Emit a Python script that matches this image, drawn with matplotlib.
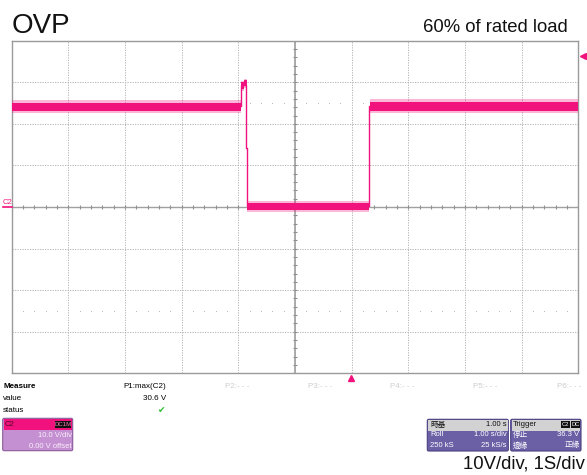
import numpy as np
import matplotlib
matplotlib.use("Agg")
import matplotlib.pyplot as plt
from matplotlib.patches import FancyBboxPatch, Rectangle

plt.rcParams['font.family'] = ['Liberation Sans', 'Noto Sans CJK TC', 'DejaVu Sans']

# ── DATA (seconds / volts, 1 s/div, 10 V/div) ────────────────
# noisy bands of the C2 trace: start, end, lower edge, upper edge
band_start = [-5.0, -0.955, -0.905, -0.852, 1.318]
band_end   = [-0.955, -0.905, -0.855, 1.300, 5.0]
band_low   = [23.1, 28.3, 29.0, -0.7, 23.2]
band_high  = [25.1, 30.0, 30.6, 0.9, 25.2]
band_spike_low  = [22.6, 27.9, 28.6, -1.2, 22.7]
band_spike_high = [25.8, 30.3, 30.8, 1.5, 25.9]

# thin centre trace through the edges
trace_t = [-5.0, -0.955, -0.955, -0.862, -0.862, -0.850, -0.850, 1.305, 1.305, 5.0]
trace_v = [24.2, 24.2, 29.4, 29.4, 14.2, 14.2, 0.2, 0.2, 24.3, 24.3]

trig_level = 36.3      # V
trig_time = 0.99       # s, marker on bottom edge
meas_max = 30.6        # V

TRACE = '#f2127e'
GRID = '#ababab'

fig = plt.figure(figsize=(5.87, 4.75), dpi=100)
W, H = 587, 475
ax = fig.add_axes([11.7 / W, 1 - 373.3 / H, (578.3 - 11.7) / W, (373.3 - 40.7) / H])
ax.set_xlim(-5, 5)
ax.set_ylim(-40, 40)
ax.set_xticks(np.arange(-5, 6, 1))
ax.set_yticks(np.arange(-40, 41, 10))
ax.tick_params(length=0, labelbottom=False, labelleft=False)
ax.grid(True, color=GRID, lw=0.6, linestyle=(0, (1.5, 1.5)))
for s in ax.spines.values():
    s.set_color('#9a9a9a')
    s.set_linewidth(1.0)

# centre axes with 1/5 div ticks
ax.axhline(0, color='#a0a0a0', lw=1.0)
ax.axvline(0, color='#a0a0a0', lw=1.2)
xt = np.arange(-5, 5.01, 0.2)
ax.plot(xt, np.zeros_like(xt), ls='none', marker='|', ms=3, mew=0.8, color='#909090')
yt = np.arange(-40, 40.1, 2)
ax.plot(np.zeros_like(yt), yt, ls='none', marker='_', ms=3, mew=0.8, color='#909090')

# dotted half-division rows
xd = np.array([x for x in np.arange(-5, 5, 0.2) if abs(x - round(x)) > 0.05])
for yy in (25, -25):
    ax.plot(xd, np.full_like(xd, yy), ls='none', marker='s', ms=0.7, mew=0,
            color='#bdbdbd')

# trace
for s0, s1, lo, hi, slo, shi in zip(band_start, band_end, band_low, band_high,
                                    band_spike_low, band_spike_high):
    ax.fill_between([s0, s1], [slo, slo], [shi, shi], color=TRACE, alpha=0.3, lw=0, zorder=4)
    ax.fill_between([s0, s1], [lo, lo], [hi, hi], color=TRACE, lw=0, zorder=5)
ax.plot(trace_t, trace_v, color=TRACE, lw=1.0, zorder=5)

# trigger markers
ax.plot([5.09], [trig_level], marker='<', ms=4, color=TRACE, clip_on=False, ls='none')
ax.plot([trig_time], [-41.2], marker='^', ms=4.5, color=TRACE, clip_on=False, ls='none')

# ── OVERLAY in pixel coordinates ─────────────────────────────
ov = fig.add_axes([0, 0, 1, 1])
ov.set_xlim(0, W)
ov.set_ylim(H, 0)
ov.axis('off')

ov.text(12, 33, 'OVP', fontsize=20, va='baseline', ha='left', color='#111111')
ov.text(568, 31.7, '60% of rated load', fontsize=13.3, va='baseline', ha='right', color='#111111')
ov.text(585, 468.3, '10V/div, 1S/div', fontsize=13.3, va='baseline', ha='right', color='#111111')

# C2 level marker
ov.text(3, 204.5, 'C2', fontsize=5.5, color=TRACE, va='baseline')
ov.plot([3, 11.5], [206.8, 206.8], color=TRACE, lw=1.2)

# measure table
sm = 5.8
ov.text(3, 387, 'Measure', fontsize=sm, fontweight='bold', va='center')
ov.text(3, 398.5, 'value', fontsize=sm, va='center')
ov.text(3, 411, 'status', fontsize=sm, va='center')
ov.text(166, 387, 'P1:max(C2)', fontsize=sm, va='center', ha='right')
ov.text(166, 398.5, f'{meas_max:.1f} V', fontsize=sm, va='center', ha='right')
ov.text(162, 411, '\u2714', fontsize=6.5, va='center', ha='center', color='#2cbf2c',
        family='DejaVu Sans')
for x0, lab in [(225, 'P2:- - -'), (308, 'P3:- - -'), (390, 'P4:- - -'),
                (473, 'P5:- - -'), (557, 'P6:- - -')]:
    ov.text(x0, 386.5, lab, fontsize=sm, va='center', color='#cdcdcd')


def box(x0, x1, y0, y1, yh, head, body, edge):
    ov.add_patch(FancyBboxPatch((x0, y0), x1 - x0, y1 - y0,
                                boxstyle='round,pad=0,rounding_size=1.5',
                                fc=body, ec=edge, lw=0.8))
    ov.add_patch(Rectangle((x0 + 0.8, y0 + 0.8), x1 - x0 - 1.6, yh - y0 - 0.8,
                           fc=head, ec='none'))


bs = 5.5
# channel descriptor
box(2.7, 72.7, 418.3, 450.7, 430, TRACE, '#c590d2', '#8a5a98')
ov.text(5, 424.5, 'C2', fontsize=bs, va='center', color='#4a0a28')
ov.add_patch(Rectangle((55, 420.5), 16, 7.5, fc='#111111', ec='none'))
ov.text(63, 424.5, 'DC1M', fontsize=4.4, va='center', ha='center', color='#ff7ab8')
ov.text(71.5, 435.5, '10.0 V/div', fontsize=bs, va='center', ha='right', color='#f7eefa')
ov.text(71.5, 446, '0.00 V offset', fontsize=bs, va='center', ha='right', color='#f7eefa')

# timebase descriptor
box(427.3, 508.3, 419.3, 451, 430.5, '#d2d2d2', '#6b5fa6', '#4a3f80')
ov.text(430, 425, '時基', fontsize=bs, va='center', color='#111111')
ov.text(506.5, 425, '1.00 s', fontsize=bs, va='center', ha='right', color='#111111')
ov.text(430, 435, 'Roll', fontsize=bs, va='center', color='white')
ov.text(506.5, 435, '1.00 s/div', fontsize=bs, va='center', ha='right', color='white')
ov.text(430, 445.5, '250 kS', fontsize=bs, va='center', color='white')
ov.text(506.5, 445.5, '25 kS/s', fontsize=bs, va='center', ha='right', color='white')

# trigger descriptor
box(510.7, 581, 419.3, 451, 430.5, '#d2d2d2', '#6b5fa6', '#4a3f80')
ov.text(513, 425, 'Trigger', fontsize=bs, va='center', color='#111111')
ov.add_patch(Rectangle((561, 421), 9, 7, fc='#111111', ec='none'))
ov.add_patch(Rectangle((570.5, 421), 9.5, 7, fc='#111111', ec='none'))
ov.text(565.5, 424.5, 'C2', fontsize=4.2, va='center', ha='center', color='white')
ov.text(575.3, 424.5, 'DC', fontsize=4.2, va='center', ha='center', color='white')
ov.text(513, 435, '停止', fontsize=bs, va='center', color='white')
ov.text(579.5, 435, f'{trig_level:.1f} V', fontsize=bs, va='center', ha='right', color='white')
ov.text(513, 445.5, '邊緣', fontsize=bs, va='center', color='white')
ov.text(579.5, 445.5, '正緣', fontsize=bs, va='center', ha='right', color='white')

fig.savefig('out.png', dpi=100)
